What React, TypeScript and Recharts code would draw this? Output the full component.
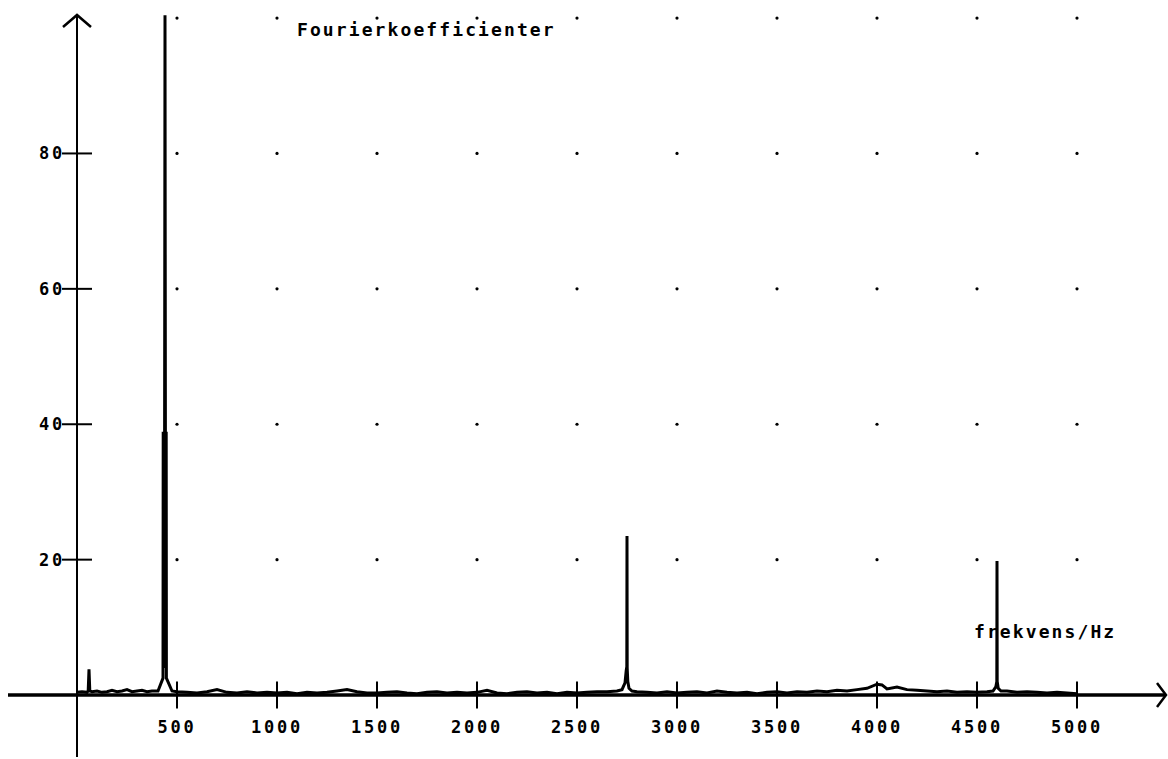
import React from 'react'
import {
    ComposedChart,
    Line,
    XAxis,
    YAxis,
    ReferenceLine,
    ReferenceDot,
} from 'recharts'

// frequency (Hz) of each spectrum point
const FREQ = [
    0, 25, 50, 56, 60, 64, 75, 100, 125, 150,
    175, 200, 225, 250, 275, 300, 325, 350, 375, 405,
    430, 431, 434, 436, 438, 440, 442, 444, 446, 447,
    475, 500, 550, 600, 650, 700, 750, 800, 850, 900,
    950, 1000, 1050, 1100, 1150, 1200, 1250, 1300, 1350, 1400,
    1450, 1500, 1550, 1600, 1650, 1700, 1750, 1800, 1850, 1900,
    1950, 2000, 2050, 2100, 2150, 2200, 2250, 2300, 2350, 2400,
    2450, 2500, 2550, 2600, 2650, 2700, 2725, 2740, 2746, 2749,
    2750, 2751, 2754, 2760, 2775, 2800, 2850, 2900, 2950, 3000,
    3050, 3100, 3150, 3200, 3250, 3300, 3350, 3400, 3450, 3500,
    3550, 3600, 3650, 3700, 3750, 3800, 3850, 3900, 3950, 4000,
    4025, 4050, 4100, 4150, 4200, 4250, 4300, 4350, 4400, 4450,
    4500, 4550, 4580, 4594, 4599, 4600, 4601, 4606, 4620, 4650,
    4700, 4750, 4800, 4850, 4900, 4950, 5000,
]

// fourier coefficient at each frequency
const AMP = [
    0.4, 0.5, 0.4, 0.6, 3.8, 0.6, 0.5, 0.6, 0.4, 0.5,
    0.7, 0.5, 0.6, 0.8, 0.5, 0.6, 0.7, 0.5, 0.6, 0.6,
    2.5, 38.9, 4.0, 38.7, 38.9, 100.4, 38.9, 4.0, 38.9, 2.5,
    0.6, 0.5, 0.4, 0.3, 0.5, 0.8, 0.4, 0.3, 0.5, 0.3,
    0.4, 0.3, 0.4, 0.2, 0.4, 0.3, 0.4, 0.6, 0.8, 0.5,
    0.3, 0.3, 0.4, 0.5, 0.3, 0.2, 0.4, 0.5, 0.3, 0.4,
    0.3, 0.4, 0.7, 0.3, 0.2, 0.4, 0.5, 0.3, 0.4, 0.2,
    0.4, 0.3, 0.4, 0.5, 0.5, 0.6, 0.8, 1.8, 3.6, 4.2,
    23.5, 4.0, 2.0, 1.0, 0.6, 0.5, 0.4, 0.3, 0.5, 0.3,
    0.4, 0.5, 0.3, 0.6, 0.4, 0.3, 0.4, 0.2, 0.4, 0.5,
    0.3, 0.5, 0.4, 0.6, 0.5, 0.7, 0.6, 0.8, 1.0, 1.6,
    1.5, 0.9, 1.2, 0.8, 0.7, 0.6, 0.5, 0.6, 0.4, 0.5,
    0.4, 0.5, 0.6, 1.2, 2.0, 19.8, 2.0, 1.0, 0.6, 0.6,
    0.4, 0.5, 0.4, 0.3, 0.4, 0.3, 0.2,
]

const X_TICKS = [500, 1000, 1500, 2000, 2500, 3000, 3500, 4000, 4500, 5000]
const Y_TICKS = [20, 40, 60, 80]
const GRID_Y = [20, 40, 60, 80, 100]

const X_MIN = -345
const X_MAX = 5445
const Y_MIN = -9.15
const Y_MAX = 100.45

const data = FREQ.map((f, i) => ({ f, a: AMP[i] }))

const MONO = '"DejaVu Sans Mono", "Liberation Mono", monospace'

const tickFont: React.CSSProperties = {
    fontFamily: MONO,
    fontSize: 17,
    fontWeight: 'bold',
    letterSpacing: 2.8,
    fill: '#000',
}

const XTickLabel = (props: any) => {
    const { viewBox, text } = props
    if (!viewBox) return null
    const cx = viewBox.x + viewBox.width / 2
    const y = viewBox.y + viewBox.height + 18.5
    return (
        <text x={cx} y={y} textAnchor="middle" dominantBaseline="central" style={tickFont}>
            {text}
        </text>
    )
}

const YTickLabel = (props: any) => {
    const { viewBox, text } = props
    if (!viewBox) return null
    const y = viewBox.y + viewBox.height / 2
    return (
        <text x={viewBox.x + 3} y={y} textAnchor="end" dominantBaseline="central" style={tickFont}>
            {text}
        </text>
    )
}

const UpArrow = (p: any) => (
    <path
        d={`M${p.cx - 14},${p.cy + 12} L${p.cx},${p.cy} L${p.cx + 14},${p.cy + 12}`}
        fill="none"
        stroke="#000"
        strokeWidth={2.5}
    />
)

const RightArrow = (p: any) => (
    <path
        d={`M${p.cx - 9},${p.cy - 12} L${p.cx},${p.cy} L${p.cx - 9},${p.cy + 12}`}
        fill="none"
        stroke="#000"
        strokeWidth={2.5}
    />
)

const textStyle: React.CSSProperties = {
    position: 'absolute',
    fontFamily: MONO,
    fontSize: 18,
    fontWeight: 'bold',
    lineHeight: '18px',
    letterSpacing: 2.1,
    color: '#000',
    whiteSpace: 'nowrap',
}

export default function App() {
    return (
        <div style={{ position: 'absolute', left: 0, top: 0, width: 1168, height: 759, background: '#fff' }}>
            <ComposedChart
                width={1168}
                height={759}
                data={data}
                margin={{ top: 15, right: 2, bottom: 2, left: 8 }}
            >
                <XAxis dataKey="f" type="number" domain={[X_MIN, X_MAX]} allowDataOverflow hide />
                <YAxis type="number" domain={[Y_MIN, Y_MAX]} allowDataOverflow hide />

                {X_TICKS.flatMap((x) =>
                    GRID_Y.map((y) => (
                        <ReferenceDot key={`g${x}-${y}`} x={x} y={y} r={1.6} fill="#000" stroke="none" />
                    ))
                )}

                <ReferenceLine y={0} stroke="#000" strokeWidth={3.5} />
                <ReferenceLine x={0} stroke="#000" strokeWidth={2} />

                {X_TICKS.map((t) => (
                    <ReferenceLine
                        key={`xt${t}`}
                        segment={[{ x: t, y: -2 }, { x: t, y: 2 }]}
                        stroke="#000"
                        strokeWidth={2}
                        label={<XTickLabel text={String(t)} />}
                    />
                ))}
                {Y_TICKS.map((t) => (
                    <ReferenceLine
                        key={`yt${t}`}
                        segment={[{ x: -75, y: t }, { x: 75, y: t }]}
                        stroke="#000"
                        strokeWidth={2}
                        label={<YTickLabel text={String(t)} />}
                    />
                ))}

                <ReferenceDot x={0} y={Y_MAX} r={0} ifOverflow="visible" shape={UpArrow} />
                <ReferenceDot x={X_MAX} y={0} r={0} ifOverflow="visible" shape={RightArrow} />

                <Line
                    type="linear"
                    dataKey="a"
                    stroke="#000"
                    strokeWidth={3}
                    dot={false}
                    activeDot={false}
                    isAnimationActive={false}
                />
            </ComposedChart>
            <div style={{ ...textStyle, left: 297, top: 21 }}>Fourierkoefficienter</div>
            <div style={{ ...textStyle, left: 974, top: 623 }}>frekvens/Hz</div>
        </div>
    )
}
